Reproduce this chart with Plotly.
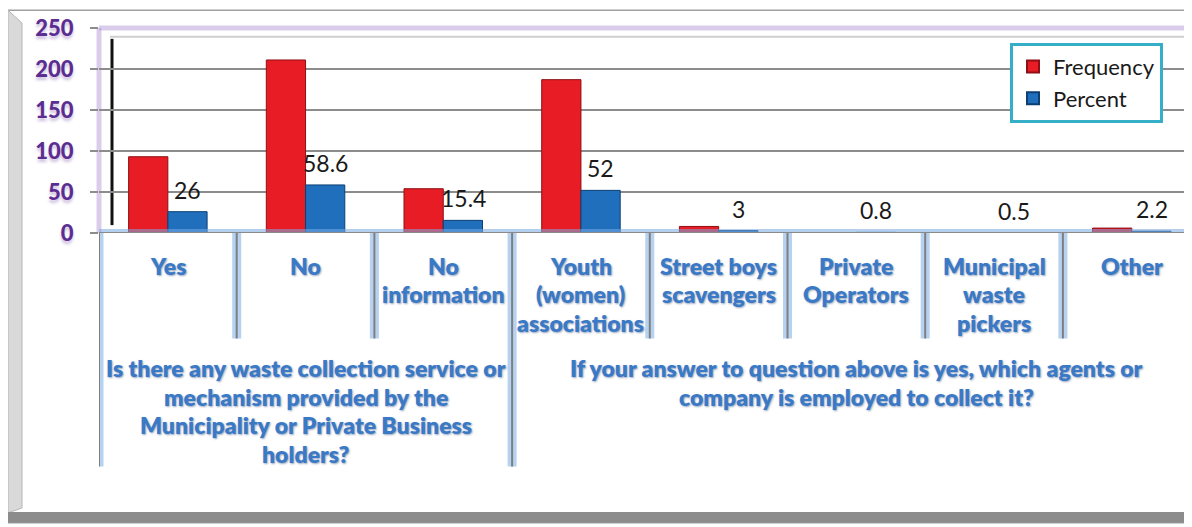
import plotly.graph_objects as go

# ---------------- data ----------------
categories = ["Yes", "No", "No information", "Youth (women) associations",
              "Street boys scavengers", "Private Operators",
              "Municipal waste pickers", "Other"]
tick_lines = [["Yes"], ["No"], ["No", "information"], ["Youth", "(women)", "associations"],
              ["Street boys", "scavengers"], ["Private", "Operators"],
              ["Municipal", "waste", "pickers"], ["Other"]]
frequency = [93, 211, 54, 187, 8, 0, 0, 6]
percent = [26, 58.6, 15.4, 52, 3, 0.8, 0.5, 2.2]
group_lines = [
    ["Is there any waste collection service or", "mechanism provided by the",
     "Municipality or Private Business", "holders?"],
    ["If your answer to question above is yes, which agents or",
     "company is employed to collect it?"],
]
group_sizes = [3, 5]
y_ticks = [0, 50, 100, 150, 200, 250]

# ---------------- geometry helpers (layout only, page pixels) ----------------
OX, OY = 8, 8           # page body margin
PAGE_W, PAGE_H = 1192, 527
W, H = PAGE_W - OX, PAGE_H - OY
L, R, T, B = 99, 1186, 25, 233  # plot area in page px


def px(x):
    return (x - L) / (R - L)


def py(y):
    return (B - y) / (B - T)


BLUE_TXT = "#3a79c6"
PURPLE = "#5b2d91"
fig = go.Figure()
fig.add_bar(x=categories, y=frequency, name="Frequency",
            marker=dict(color="#e81c24", line=dict(color="#8e0f14", width=1)))
fig.add_bar(x=categories, y=percent, name="Percent",
            marker=dict(color="#1f6fbd", line=dict(color="#0d3f73", width=1)))

shapes = []
annotations = []

# outer frame
shapes += [
    dict(type="rect", xref="paper", yref="paper", x0=px(8), x1=px(1192), y0=py(527), y1=py(7),
         line=dict(color="#a0a0a0", width=1.5), fillcolor="white", layer="below"),
    dict(type="path", xref="paper", yref="paper",
         path=f"M {px(8)} {py(7)} L {px(22)} {py(20)} L {px(22)} {py(512)} L {px(8)} {py(517)} Z",
         fillcolor="#d9d9d9", line=dict(color="#b5b5b5", width=1), layer="below"),
    dict(type="rect", xref="paper", yref="paper", x0=px(8), x1=px(1192), y0=py(527), y1=py(516),
         fillcolor="#8c8c8c", line=dict(width=0), layer="below"),
    dict(type="rect", xref="paper", yref="paper", x0=px(1187), x1=px(1192), y0=py(527), y1=py(7),
         fillcolor="#8e98a4", line=dict(width=0), layer="below"),
    # back-wall lines
    dict(type="line", xref="paper", yref="paper", x0=px(99), x1=px(1192), y0=py(25), y1=py(25),
         line=dict(color="rgba(170,145,210,0.45)", width=5), layer="below"),
    dict(type="line", xref="paper", yref="paper", x0=px(99), x1=px(99), y0=py(233), y1=py(25),
         line=dict(color="rgba(170,145,210,0.45)", width=5), layer="below"),
    dict(type="line", xref="paper", yref="paper", x0=px(110), x1=px(1192), y0=py(34), y1=py(34),
         line=dict(color="#cfcfcf", width=2), layer="below"),
    dict(type="line", xref="paper", yref="paper", x0=px(112), x1=px(112), y0=py(225), y1=py(36),
         line=dict(color="#111111", width=3), layer="below"),
    # baseline glow
    dict(type="line", xref="paper", yref="y", x0=0, x1=1, y0=0, y1=0,
         line=dict(color="rgba(120,170,225,0.55)", width=8), layer="above"),
    dict(type="line", xref="paper", yref="y", x0=0, x1=1, y0=0, y1=0,
         line=dict(color="#8a8a8a", width=2), layer="above"),
]

# category dividers (short) and group dividers (long)
group_edges = [0]
for s in group_sizes:
    group_edges.append(group_edges[-1] + s)
for i in range(len(categories) + 1):
    long_ = i in group_edges
    y_end = py(470 if long_ else 340)
    for col, w in (("rgba(110,165,225,0.5)", 9), ("#7f7f7f", 2)):
        shapes.append(dict(type="line", xref="x", yref="paper", x0=i - 0.5, x1=i - 0.5,
                           y0=0, y1=y_end, line=dict(color=col, width=w), layer="above"))

txt_font = dict(family="Lato", size=23, color=BLUE_TXT, weight=800,
                shadow="1px 1px 2px rgba(30,60,110,0.45)")

# category labels
for cat, lines in zip(categories, tick_lines):
    for k, line in enumerate(lines):
        annotations.append(dict(x=cat, xref="x", yref="paper", y=py(266 + 29 * k),
                                text=line, showarrow=False, yanchor="middle",
                                xanchor="center", font=txt_font))

# group labels
for g, lines in enumerate(group_lines):
    center = (group_edges[g] + group_edges[g + 1] - 1) / 2
    for k, line in enumerate(lines):
        annotations.append(dict(x=center, xref="x", yref="paper", y=py(370 + 29 * k),
                                text=line, showarrow=False, yanchor="middle",
                                xanchor="center", font=txt_font))

# percent data labels
for cat, v in zip(categories, percent):
    annotations.append(dict(x=cat, y=v, xref="x", yref="y", text=f"{v:g}", showarrow=False,
                            xshift=20, yshift=22, yanchor="middle",
                            font=dict(family="Lato", size=23, color="#1a1a1a")))

fig.update_layout(
    width=W, height=H,
    margin=dict(l=L - OX, r=PAGE_W - R, t=T - OY, b=PAGE_H - B, pad=0),
    paper_bgcolor="white", plot_bgcolor="rgba(0,0,0,0)",
    barmode="group", bargap=0.43, bargroupgap=0,
    showlegend=True,
    legend=dict(x=px(1010), y=py(40), xanchor="left", yanchor="top",
                bordercolor="#35afc8", borderwidth=3, bgcolor="white",
                font=dict(family="Lato", size=22, color="#1a1a1a"),
                itemsizing="constant"),
    shapes=shapes, annotations=annotations,
)
fig.update_xaxes(range=[-0.5, -0.5 + (R - L) / 137.7], showticklabels=False,
                 showgrid=False, zeroline=False, showline=False, ticks="")
fig.update_yaxes(range=[0, 250], tickvals=y_ticks, showgrid=True, gridcolor="#8c8c8c",
                 gridwidth=2, zeroline=False, showline=False, ticks="outside", ticklen=8,
                 tickcolor="#8c8c8c", tickwidth=2, ticklabelstandoff=12,
                 tickfont=dict(family="Lato", size=22, color=PURPLE, weight=900,
                               shadow="0px 3px 3px rgba(110,70,160,0.35)"))

fig.write_html("out.html")
